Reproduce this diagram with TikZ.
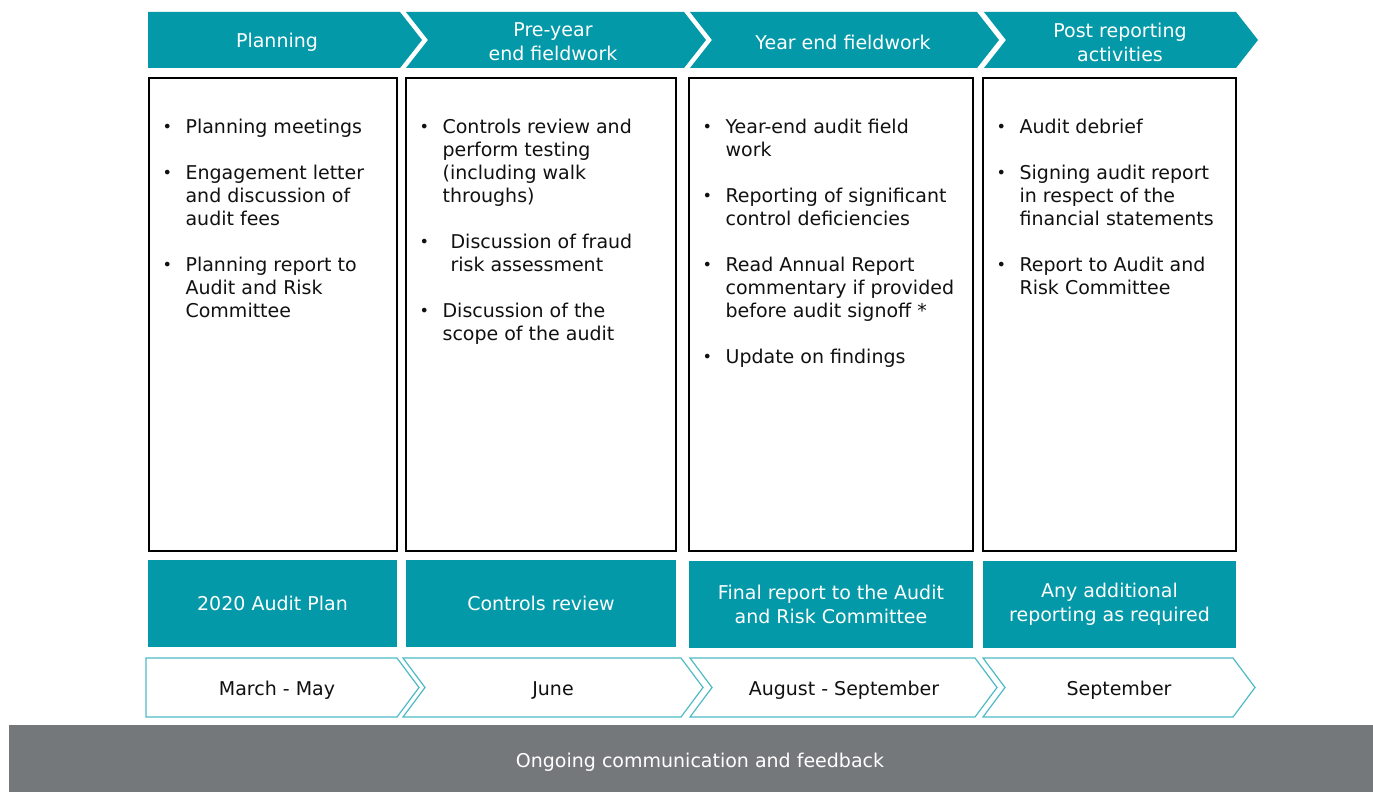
\documentclass[tikz,border=0pt]{standalone}
\usepackage{fontspec}
\setmainfont{DejaVu Sans}
\usetikzlibrary{positioning}

\definecolor{auditteal}{HTML}{0399A8}
\definecolor{auditline}{HTML}{4DBAC6}
\definecolor{auditgrey}{HTML}{75787B}
\definecolor{audittext}{HTML}{111111}

\newcommand{\bul}{\makebox[23pt][l]{\raisebox{0.5pt}{\fontsize{16}{16}\selectfont\textbullet}}}
\newcommand{\ind}{\hspace*{23pt}}

\tikzset{
  phase/.style={text=white, align=center, inner sep=0pt, font=\fontsize{19}{24}\selectfont},
  listbox/.style={draw=black, line width=1.2pt, fill=white, inner sep=0pt},
  listtext/.style={anchor=north west, inner sep=0pt, align=left, text=audittext, font=\fontsize{19}{23}\selectfont},
  resultbox/.style={fill=auditteal, text=white, align=center, inner sep=0pt, font=\fontsize{19}{24}\selectfont},
  period/.style={draw=auditline, line width=1.2pt, fill=white},
  when/.style={inner sep=0pt, text=audittext, font=\fontsize{19}{23}\selectfont},
}

\begin{document}
\begin{tikzpicture}[x=1pt,y=-1pt]
  \useasboundingbox (0,0) rectangle (1373,792);

  % phases
  \foreach \xl/\xr/\nk in {148/400/0,406/684/22,690/977/22,984/1236/22}
    \fill[auditteal] (\xl,12) -- (\xr,12) -- (\xr+22,40) -- (\xr,68) -- (\xl,68) -- (\xl+\nk,40) -- cycle;

  \node[phase] (plan) at (277,42) {Planning};
  \node[phase] (preyear) at (553,42) {Pre-year\\end fieldwork};
  \node[phase] (yearend) at (843,42) {Year end fieldwork};
  \node[phase] (post) at (1120,42) {Post reporting\\activities};

  % activity boxes
  \node[listbox, minimum width=248, minimum height=473] (b1) at (273,314.5) {};
  \node[listbox, minimum width=270, minimum height=473] (b2) at (541,314.5) {};
  \node[listbox, minimum width=284, minimum height=473] (b3) at (831,314.5) {};
  \node[listbox, minimum width=253, minimum height=473] (b4) at (1109.5,314.5) {};

  \node[listtext] (l1) at ([xshift=14pt,yshift=-41pt]b1.north west)
    {\bul Planning meetings\\[23pt]
     \bul Engagement letter\\ \ind and discussion of\\ \ind audit fees\\[23pt]
     \bul Planning report to\\ \ind Audit and Risk\\ \ind Committee};
  \node[listtext] (l2) at ([xshift=14pt,yshift=-41pt]b2.north west)
    {\bul Controls review and\\ \ind perform testing\\ \ind (including walk\\ \ind throughs)\\[23pt]
     \bul\hspace*{8pt}Discussion of fraud\\ \ind\hspace*{8pt}risk assessment\\[23pt]
     \bul Discussion of the\\ \ind scope of the audit};
  \node[listtext] (l3) at ([xshift=14pt,yshift=-41pt]b3.north west)
    {\bul Year-end audit field\\ \ind work\\[23pt]
     \bul Reporting of significant\\ \ind control deficiencies\\[23pt]
     \bul Read Annual Report\\ \ind commentary if provided\\ \ind before audit signoff *\\[23pt]
     \bul Update on findings};
  \node[listtext] (l4) at ([xshift=14pt,yshift=-41pt]b4.north west)
    {\bul Audit debrief\\[23pt]
     \bul Signing audit report\\ \ind in respect of the\\ \ind financial statements\\[23pt]
     \bul Report to Audit and\\ \ind Risk Committee};

  % deliverables
  \node[resultbox, minimum width=249, minimum height=87] (r1) at (272.5,603.5) {2020 Audit Plan};
  \node[resultbox, minimum width=270, minimum height=87] (r2) at (541,603.5) {Controls review};
  \node[resultbox, minimum width=284, minimum height=87] (r3) at (831,604.5) {Final report to the Audit\\and Risk Committee};
  \node[resultbox, minimum width=253, minimum height=87] (r4) at (1109.5,604.5) {Any additional\\reporting as required};

  % timing
  \foreach \xl/\xr/\nk in {146/397/0,403/681/22,690/975/22,983/1233/22}
    \draw[period] (\xl,658) -- (\xr,658) -- (\xr+22,687.5) -- (\xr,717) -- (\xl,717) -- (\xl+\nk,687.5) -- cycle;

  \node[when] (t1) at (277,690) {March - May};
  \node[when] (t2) at (553,690) {June};
  \node[when] (t3) at (844,690) {August - September};
  \node[when] (t4) at (1119,690) {September};

  % ongoing
  \fill[auditgrey] (9,725) rectangle (1373,792);
  \node[when, text=white] (ongoing) at (700,762) {Ongoing communication and feedback};
\end{tikzpicture}
\end{document}
